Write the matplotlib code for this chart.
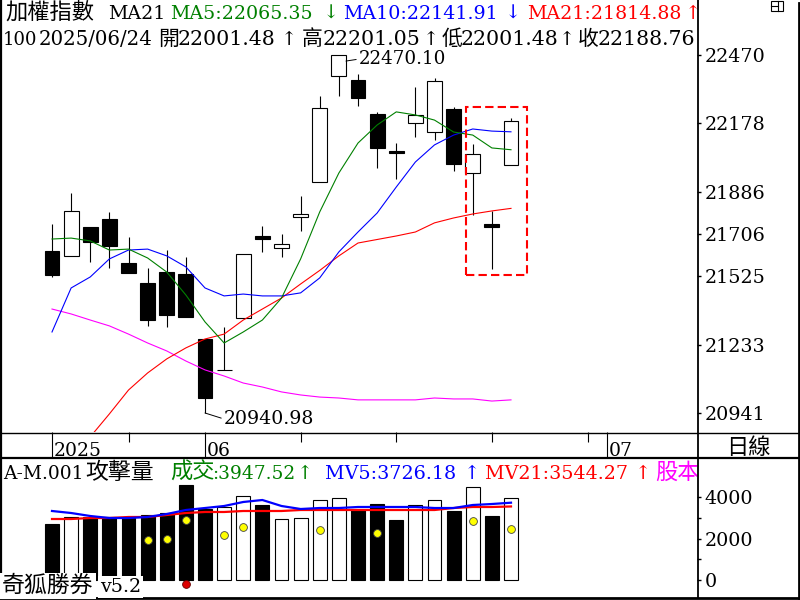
import matplotlib
matplotlib.use("Agg")
import matplotlib.pyplot as plt
import numpy as np
from matplotlib.lines import Line2D
from matplotlib.patches import Rectangle

plt.rcParams['font.family'] = ['DejaVu Serif', 'Noto Sans CJK TC', 'DejaVu Sans']

# ---- data ----
opens  = [21633, 21612, 21735, 21770, 21582, 21496, 21543, 21535, 21257, 21124, 21347, 21697, 21646,
          21778, 21928, 22380, 22363, 22218, 22060, 22180, 22141, 22239, 21966, 21749, 22001.48]
highs  = [21748, 21881, 21737, 21800, 21693, 21560, 21637, 21607, 21259, 21308, 21621, 21740, 21706,
          21868, 22295, 22470.10, 22389, 22227, 22094, 22333, 22372, 22248, 22090, 21804, 22201.05]
lows   = [21522, 21610, 21586, 21560, 21537, 21313, 21308, 21349, 20940.98, 21123, 21346, 21629, 21607,
          21718, 21926, 22295, 22252, 21987, 21939, 22120, 22107, 21975, 21787, 21556, 22001.48]
closes = [21530, 21804, 21671, 21654, 21539, 21338, 21360, 21351, 21005, 21126, 21620, 21685, 21663,
          21791, 22244, 22468, 22286, 22073, 22051, 22214, 22359, 22005, 22047, 21737, 22188.76]

ma5  = [21684, 21688, 21676, 21637, 21641, 21603, 21543, 21445, 21330, 21240, 21287, 21338, 21432,
        21599, 21800, 21966, 22094, 22171, 22227, 22214, 22192, 22141, 22128, 22073, 22065.35]
ma10 = [21287, 21475, 21522, 21599, 21637, 21641, 21612, 21565, 21475, 21441, 21449, 21441, 21441,
        21454, 21518, 21629, 21714, 21795, 21906, 22013, 22086, 22128, 22154, 22145, 22141.91]
ma21 = [np.nan, np.nan, 20839, 20937, 21039, 21112, 21172, 21219, 21257, 21278, 21338, 21385, 21432,
        21492, 21550, 21612, 21667, 21682, 21697, 21714, 21753, 21774, 21791, 21804, 21814.88]
ma_long = [21385, 21364, 21338, 21313, 21278, 21240, 21206, 21163, 21125, 21099, 21069, 21052, 21031,
           21018, 21009, 21005, 20997, 20997, 20997, 20997, 21005, 21001, 21001, 20992, 20997]

vols = [2700, 3050, 3040, 3040, 2990, 3130, 3230, 4580, 3420, 3520, 4050, 3615, 2940, 2990, 3860,
        3950, 3370, 3660, 2890, 3615, 3860, 3330, 4480, 3085, 3947.52]
mv5  = [3326, 3229, 3085, 2988, 2988, 3037, 3181, 3374, 3470, 3567, 3760, 3856, 3567, 3422, 3470,
        3470, 3519, 3519, 3519, 3519, 3470, 3470, 3615, 3663, 3726.18]
mv21 = [2940, 2940, 2988, 2988, 3037, 3037, 3133, 3229, 3278, 3278, 3326, 3326, 3326, 3374, 3374,
        3374, 3374, 3374, 3374, 3374, 3374, 3470, 3519, 3519, 3544.27]

dot_idx  = [5, 6, 7, 9, 10, 14, 17, 22, 24]
dot_vals = [1930, 1980, 2890, 2170, 2550, 2410, 2270, 2840, 2460]
red_dot_idx  = [7]
red_dot_vals = [-190]

price_ticks = [22470, 22178, 21886, 21706, 21525, 21233, 20941]
vol_ticks = [0, 2000, 4000]
month_idx = [0, 8, 29]
month_lbl = ['2025', '06', '07']
week_idx = [4, 13, 18, 23, 28]
last_date = '2025/06/24'

GREEN, BLUE, RED, MAG = '#008000', '#0000ff', '#ff0000', '#ff00ff'

# ---- figure in pixel layout ----
W, H = 800, 600
fig = plt.figure(figsize=(8, 6), dpi=100, facecolor='w')

def fx(x):
    return x / W

def fy(y):
    return 1 - y / H

x = np.arange(len(closes))
o, h, l, c = map(np.array, (opens, highs, lows, closes))
xlim = (-52 / 19.125, 645 / 19.125)

ax_p = fig.add_axes([0, fy(432), fx(697), 432 / H])
ax_t = fig.add_axes([0, fy(458), fx(697), 26 / H])
ax_v = fig.add_axes([0, fy(598), fx(697), 140 / H])
for ax in (ax_p, ax_t, ax_v):
    ax.set_xlim(*xlim)
    ax.set_xticks([])
    ax.set_facecolor('none')
    for s in ax.spines.values():
        s.set_visible(False)
ax_t.set_yticks([])

# price panel
ax_p.set_ylim(20859.8, 22704.9)
up = c >= o
ax_p.vlines(x, l, h, color='k', lw=0.8, zorder=2)
body_h = np.maximum(np.abs(c - o), 1.0)
ax_p.bar(x, body_h, bottom=np.minimum(o, c), width=0.78,
         color=np.where(up, 'white', 'black'), edgecolor='k', lw=0.8, zorder=3)
ax_p.plot(x, ma_long, color=MAG, lw=0.8, zorder=4)
ax_p.plot(x, ma21, color=RED, lw=0.8, zorder=4)
ax_p.plot(x, ma10, color=BLUE, lw=0.8, zorder=4)
ax_p.plot(x, ma5, color=GREEN, lw=0.8, zorder=4)

ax_p.yaxis.tick_right()
ax_p.set_yticks(price_ticks)
ax_p.set_yticklabels([str(t) for t in price_ticks])
ax_p.tick_params(axis='y', direction='out', length=3, width=1, pad=2.5, labelsize=13.8)

# highest / lowest labels
ih = int(np.argmax(h))
ax_p.annotate(f"{h[ih]:.2f}", xy=(ih + 0.37, h[ih] - 26), xytext=(13, 2),
              textcoords='offset pixels', ha='left', va='center', fontsize=13.2,
              arrowprops=dict(arrowstyle='-', lw=0.7, color='k', shrinkA=0, shrinkB=0,
                              relpos=(0, 0.5)))
il = int(np.argmin(l))
ax_p.annotate(f"{l[il]:.2f}", xy=(il, l[il]), xytext=(19, -6),
              textcoords='offset pixels', ha='left', va='center', fontsize=13.6,
              arrowprops=dict(arrowstyle='-', lw=0.7, color='k', shrinkA=0, shrinkB=0,
                              relpos=(0, 0.5)))

# highlight box around the last three sessions
sel = slice(len(x) - 3, len(x))
rx0, rx1 = x[sel][0] - 0.35, x[sel][-1] + 0.84
ry0, ry1 = l[sel].min() - 26, h[sel].max() + 47
ax_p.add_patch(Rectangle((rx0, ry0), rx1 - rx0, ry1 - ry0, fill=False, ec=RED,
                         lw=1.5, ls=(0, (4, 2)), zorder=5))

# time strip
ax_t.set_ylim(0, 1)
ax_t.vlines(month_idx, 0, 1, color='k', lw=0.8)
ax_t.vlines(week_idx, 0.6, 1, color='k', lw=0.8)
for i, lb in zip(month_idx, month_lbl):
    ax_t.text(i + 0.1, 0.07, lb, ha='left', va='baseline', fontsize=13.5)

# volume panel
ax_v.set_ylim(-867.6, 5880.4)
ax_v.bar(x, vols, width=0.73, color=np.where(up, 'white', 'black'), edgecolor='k', lw=0.8, zorder=2)
ax_v.plot(x, mv21, color=RED, lw=1.6, zorder=3)
ax_v.plot(x, mv5, color=BLUE, lw=1.6, zorder=3)
ax_v.plot(dot_idx, dot_vals, 'o', ms=5.6, mfc='#ffff00', mec='#444444', mew=0.6, zorder=4)
ax_v.plot(red_dot_idx, red_dot_vals, 'o', ms=5.6, mfc='#dd0000', mec='#660000', mew=0.6, zorder=4)
ax_v.yaxis.tick_right()
ax_v.set_yticks(vol_ticks)
ax_v.set_yticklabels([str(t) for t in vol_ticks])
ax_v.set_yticks([1000, 3000], minor=True)
ax_v.tick_params(axis='y', which='both', direction='out', length=3, width=1, pad=2.5, labelsize=13.8)

# ---- header texts ----
def put(xp, yp, s, color='k', size=14.8, ha='left', clip=None, **kw):
    t = fig.text(fx(xp), fy(yp), s, color=color, fontsize=size, ha=ha, va='baseline', **kw)
    if clip is not None:
        t.set_clip_box(clip.bbox)
        t.set_clip_on(True)
    return t

LAT1, CJK = 13.7, 16.0
put(5, 19, "加權指數", size=CJK)
put(108, 19, "MA21", size=LAT1)
put(170, 19, f"MA5:{ma5[-1]:.2f}", GREEN, LAT1)
put(331, 19, "↓", GREEN, 14, 'center')
put(343, 19, f"MA10:{ma10[-1]:.2f}", BLUE, LAT1)
put(513, 19, "↓", BLUE, 14, 'center')
put(527, 19, f"MA21:{ma21[-1]:.2f}", RED, LAT1)
put(693, 19, "↑", RED, 14, 'center')

LAT2 = 14.8
row2 = [(3, "100", 13.0), (39, last_date, 14.2), (158, "開", CJK - 1), (178, f"{o[-1]:.2f}"),
        (289, "↑", 14, 'center'), (302, "高", CJK - 1), (323, f"{h[-1]:.2f}"), (431, "↑", 14, 'center'),
        (442, "低", CJK - 1), (461, f"{l[-1]:.2f}"), (567, "↑", 14, 'center'),
        (578, "收", CJK - 1), (598, f"{c[-1]:.2f}")]
for item in row2:
    xp, s = item[0], item[1]
    size = item[2] if len(item) > 2 else LAT2
    ha = item[3] if len(item) > 3 else 'left'
    put(xp, 45, s, 'k', size, ha)

LATV = 13.4
put(3, 479, "A-M.001", size=LATV)
put(85, 479, "攻擊量", size=CJK + 0.5)
put(170, 479, "成交", GREEN, CJK)
put(212, 479, f":{vols[-1]:.2f}", GREEN, LATV)
put(305, 479, "↑", GREEN, 14, 'center')
put(325, 479, f"MV5:{mv5[-1]:.2f}", BLUE, 13.8)
put(472, 479, "↑", BLUE, 14, 'center')
put(485, 479, f"MV21:{mv21[-1]:.2f}", RED, 13.8)
put(643, 479, "↑", RED, 14, 'center')
put(655, 479, "股本", MAG, CJK, clip=ax_v)

put(2, 592, "奇狐勝券", size=CJK + 0.5,
    bbox=dict(facecolor='white', edgecolor='none', pad=1.5))
put(100, 592, "v5.2", size=13.8, bbox=dict(facecolor='white', edgecolor='none', pad=1.5))
put(748, 454, "日線", size=CJK, ha='center')

# ---- frame lines ----
def hline(y, x0, x1, lw):
    fig.add_artist(Line2D([fx(x0), fx(x1)], [fy(y), fy(y)], color='k', lw=lw))

def vline(xp, y0, y1, lw):
    fig.add_artist(Line2D([fx(xp), fx(xp)], [fy(y0), fy(y1)], color='k', lw=lw))

vline(0.8, 0, 598, 1.6)
vline(698, 0, 598, 1.3)
vline(798.6, 3, 598, 2.0)
hline(432.5, 0, 800, 1.0)
hline(458, 0, 800, 1.6)
hline(597.5, 0, 800, 2.0)

# window icon in the corner
fig.add_artist(Rectangle((fx(771), fy(11)), fx(12), 10 / H, fill=False, ec='k', lw=0.8))
vline(777.5, 1, 11, 0.8)
hline(6, 771, 777.5, 0.8)

fig.savefig("out.png", dpi=100, facecolor='w')
